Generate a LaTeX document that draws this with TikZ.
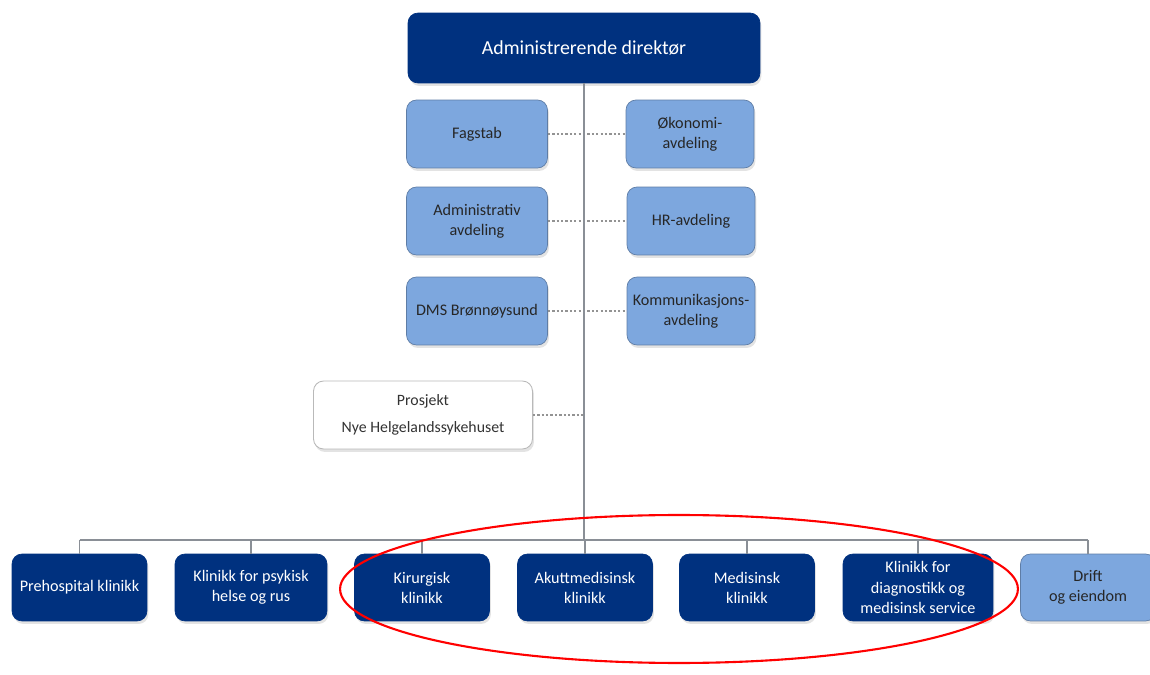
\documentclass[tikz,border=0pt]{standalone}
\usepackage{fontspec}
\setmainfont{Carlito}
\usetikzlibrary{positioning,shadows}
\definecolor{navy}{RGB}{0,49,127}
\definecolor{lightblue}{RGB}{125,167,222}
\definecolor{trunkgray}{RGB}{138,143,150}

\begin{document}
\begin{tikzpicture}[x=0.02cm,
                    y=-0.02cm,
                    box/.style={rectangle, rounded corners=0.2cm, align=center, inner sep=2pt,
                                drop shadow={opacity=0.22, shadow xshift=0.03cm, shadow yshift=-0.06cm}},
                    leader/.style={box, fill=navy, draw=navy, text=white, minimum width=7.04cm,
                                   minimum height=1.4cm, font=\fontsize{11.3}{14}\selectfont},
                    staff/.style={box, fill=lightblue, draw=lightblue!75!black, line width=0.4pt,
                                  text=black!85, minimum height=1.36cm, font=\fontsize{9.2}{11.5}\selectfont},
                    clinic/.style={box, fill=navy, draw=navy, text=white, minimum width=2.7cm,
                                   minimum height=1.34cm, font=\fontsize{9.2}{11.5}\selectfont},
                    project/.style={box, fill=white, draw=gray!55, line width=0.5pt, text=black!80,
                                    minimum width=4.38cm, minimum height=1.36cm, font=\fontsize{9}{15}\selectfont},
                    conn/.style={draw=trunkgray, line width=1.1pt},
                    dotline/.style={draw=gray!85, line width=0.7pt, dash pattern=on 1.3pt off 1.2pt}
                    ]
  \useasboundingbox (0,0) rectangle (1150,675);

  \node[leader] (0) at (584,48) {Administrerende direktør};
  \coordinate (bus) at (584,540);

  \node[staff, minimum width=2.82cm] (1) at (477,134) {Fagstab};
  \node[staff, minimum width=2.56cm] (2) at (690,134) {Økonomi-\\avdeling};
  \node[staff, minimum width=2.82cm] (3) at (477,221) {Administrativ\\avdeling};
  \node[staff, minimum width=2.56cm] (4) at (691,221) {HR-avdeling};
  \node[staff, minimum width=2.82cm] (5) at (477,311) {DMS Brønnøysund};
  \node[staff, minimum width=2.56cm] (6) at (691,311) {Kommunikasjons-\\avdeling};
  \node[project] (7) at (423,415) {Prosjekt\\Nye Helgelandssykehuset};

  \node[clinic] (8) at (79.5,587.5) {Prehospital klinikk};
  \node[clinic, minimum width=3.04cm] (9) at (251,587.5) {Klinikk for psykisk\\helse og rus};
  \node[clinic] (10) at (422,587.5) {Kirurgisk\\klinikk};
  \node[clinic] (11) at (585,587.5) {Akuttmedisinsk\\klinikk};
  \node[clinic] (12) at (747,587.5) {Medisinsk\\klinikk};
  \node[clinic, minimum width=3.0cm] (13) at (918,587.5) {Klinikk for\\diagnostikk og\\medisinsk service};
  \node[clinic, fill=lightblue, draw=lightblue!75!black, text=black!85] (14) at (1088,587.5) {Drift\\og eiendom};

  % staff lines
  \draw[dotline] (1) -- (2);
  \draw[dotline] (3) -- (4);
  \draw[dotline] (5) -- (6);
  \draw[dotline] (7.east) -- (7.east -| bus);

  % line organisation
  \draw[conn, line width=1.4pt] (0.south) -- (bus);
  \draw[conn] (8.north |- bus) -- (14.north |- bus);
  \foreach \n in {8,...,14}
    \draw[conn] (\n.north |- bus) -- (\n.north);

  \draw[red, line width=1.2pt] (679,589) ellipse [x radius=6.78cm, y radius=1.48cm];
\end{tikzpicture}
\end{document}
